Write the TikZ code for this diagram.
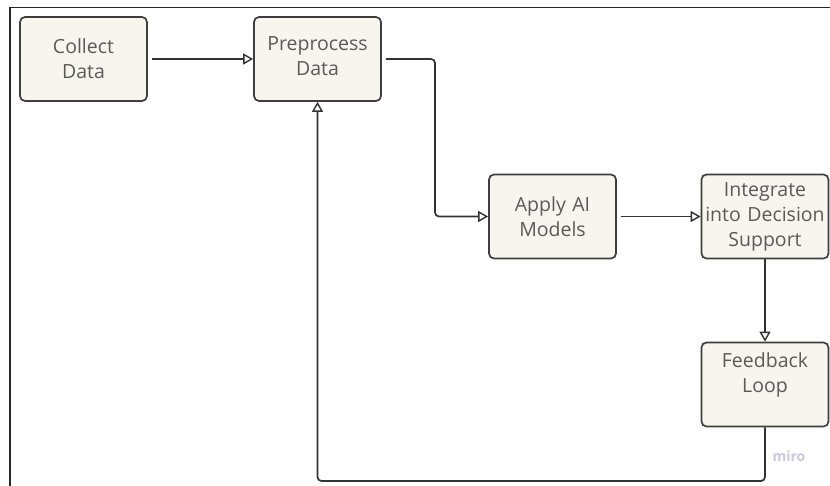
\documentclass[tikz,border=0pt]{standalone}
\usepackage{fontspec}
\setmainfont{Open Sans}
\usetikzlibrary{arrows.meta}
\definecolor{boxfill}{HTML}{F8F4EE}
\definecolor{boxline}{HTML}{3E3E3E}
\definecolor{txt}{HTML}{5A5A5A}
\definecolor{conn}{HTML}{333333}
\definecolor{mirocol}{HTML}{C9C8DE}
\tikzset{
  stepbox/.style={draw=boxline, line width=1.7pt, fill=boxfill, rounded corners=5pt,
    minimum width=127pt, minimum height=84pt, inner sep=0pt, text width=121pt, align=center,
    text=txt, font=\fontsize{19.5}{25}\selectfont},
  conn/.style={draw=conn, line width=1.7pt, rounded corners=4pt,
    -{Triangle[open, length=10pt, width=11pt, line width=1.4pt]}},
}
\begin{document}
\begin{tikzpicture}[x=1pt,y=-1pt]
\useasboundingbox (0,0) rectangle (830,486);
\draw[line width=1.6pt, draw=black!85] (10,486) -- (10,7.5) -- (830,7.5);
\node[stepbox] (collect) at (83.5,59) {Collect\\Data};
\node[stepbox] (pre) at (317.5,59) {Preprocess\\Data\\[-19pt]\mbox{}};
\node[stepbox] (apply) at (552.5,216.5) {Apply AI\\Models};
\node[stepbox] (integ) at (765,216.5) {Integrate\\\makebox[121pt][c]{into Decision}\\Support};
\node[stepbox] (feed) at (765,384.5) {Feedback\\Loop\\[-2pt]\mbox{}};
\node[text=mirocol, font=\bfseries\fontsize{14}{14}\selectfont, anchor=west] (miro) at (769,456) {miro};
\coordinate (c1) at (435,59);
\coordinate (c2) at (435,216.5);
\coordinate (c3) at (765,481);
\coordinate (c4) at (317.5,481);
\draw[conn] ([xshift=4pt]collect.east) -- (pre.west);
\draw[conn] ([xshift=4pt]pre.east) -- (c1) -- (c2) -- (apply.west);
\draw[conn] ([xshift=4pt]apply.east) -- (integ.west);
\draw[conn] (integ.south) -- (feed.north);
\draw[conn] (feed.south) -- (c3) -- (c4) -- (pre.south);
\end{tikzpicture}
\end{document}
